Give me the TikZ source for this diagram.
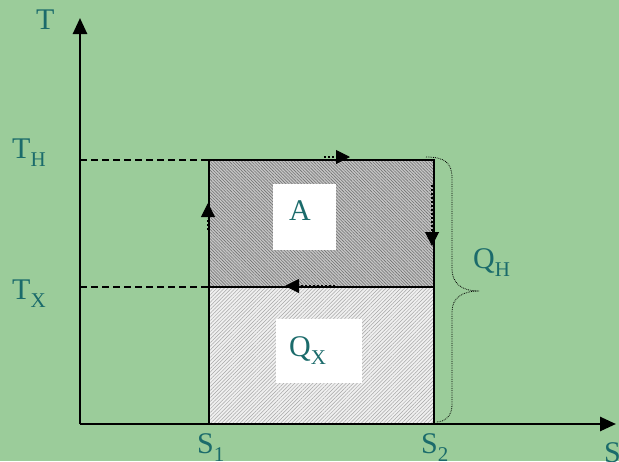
\documentclass[tikz,border=0pt]{standalone}
\usepackage{fontspec}
\setmainfont{Liberation Serif}
\usetikzlibrary{arrows.meta,patterns.meta}
\definecolor{bg}{HTML}{9BCC9A}
\definecolor{txt}{HTML}{1B6B6B}
\tikzset{
  lbl/.style={text=txt,font=\fontsize{30}{31}\selectfont,inner sep=0pt,anchor=base west},
  axis/.style={line width=2.6pt,-{Triangle[width=14pt,length=16pt]}},
  edge/.style={line width=2pt},
  guide/.style={line width=1.8pt,dash pattern=on 7pt off 4pt},
  tip/.style={line width=1pt,-{Triangle[width=14pt,length=14pt]}},
  tail/.style={line width=2pt,dotted},
  brace/.style={line width=0.8pt,densely dotted},
  wbox/.style={fill=white,draw=none},
}
\newcommand{\sub}[1]{\raisebox{-0.28em}{\fontsize{21}{22}\selectfont #1}}
\begin{document}
\begin{tikzpicture}[x=1pt,y=-1pt]
\useasboundingbox (0,0) rectangle (619,461);
\fill[bg] (0,0) rectangle (619,461);
% coordinates
\coordinate (O) at (80,424);
\coordinate (Ttop) at (80,18);
\coordinate (Send) at (616,424);
\coordinate (A1) at (209,424);
\coordinate (A2) at (434,424);
\coordinate (B1) at (209,287);
\coordinate (B2) at (434,287);
\coordinate (C1) at (209,160);
\coordinate (C2) at (434,160);
\coordinate (YH) at (80,160);
\coordinate (YX) at (80,287);
% fills
\fill[fill=gray!45] (C1) rectangle (B2);
\fill[pattern={Lines[angle=-45,distance=2.2pt,line width=0.6pt]},pattern color=black!55] (C1) rectangle (B2);
\fill[fill=gray!12] (B1) rectangle (A2);
\fill[pattern={Lines[angle=45,distance=2.6pt,line width=0.5pt]},pattern color=gray!70] (B1) rectangle (A2);
% white label boxes
\fill[wbox] (273,184) rectangle (336,250);
\fill[wbox] (276,319) rectangle (362,383);
% dashed guides
\draw[guide] (YH) -- (C1);
\draw[guide] (YX) -- (B1);
% edges
\draw[edge] (A1) -- (C1) -- (C2) -- (A2);
\draw[edge] (B1) -- (B2);
\draw[line width=2.8pt] (B2) -- (A2);
% axes
\draw[axis] (O) -- (Ttop);
\draw[axis] (O) -- (Send);
% cycle arrows
\coordinate (ta) at (324,157); \coordinate (tb) at (336,157); \coordinate (tt) at (350,157);
\draw[tail] (ta) -- (tb); \draw[tip] (tb) -- (tt);
\coordinate (ra) at (432,185); \coordinate (rb) at (432,231); \coordinate (rt) at (432,246);
\draw[tail] (ra) -- (rb); \draw[tip] (rb) -- (rt);
\coordinate (ma) at (335,286); \coordinate (mb) at (299,286); \coordinate (mt) at (285,286);
\draw[tail] (ma) -- (mb); \draw[tip] (mb) -- (mt);
\coordinate (la) at (208,230); \coordinate (lb) at (208,218); \coordinate (lt) at (208,203);
\draw[tail] (la) -- (lb); \draw[tip] (lb) -- (lt);
% brace
\coordinate (bt) at (426,157); \coordinate (bm) at (479,291); \coordinate (bb) at (436,422);
\draw[brace] (bt) .. controls (445,157) and (452,163) .. (452,178)
  -- (452,268) .. controls (452,284) and (462,291) .. (bm)
  .. controls (462,291) and (452,298) .. (452,312)
  -- (452,405) .. controls (452,416) and (445,422) .. (bb);
% labels
\node[lbl] (lT) at (36,29) {T};
\node[lbl] (lTH) at (12,158) {T\sub{H}};
\node[lbl] (lTX) at (12,299) {T\sub{X}};
\node[lbl] (lS1) at (197,453) {S\sub{1}};
\node[lbl] (lS2) at (421,453) {S\sub{2}};
\node[lbl] (lS) at (604,462) {S};
\node[lbl] (lA) at (289,220) {A};
\node[lbl] (lQX) at (289,356) {Q\sub{X}};
\node[lbl] (lQH) at (473,268) {Q\sub{H}};
\end{tikzpicture}
\end{document}
